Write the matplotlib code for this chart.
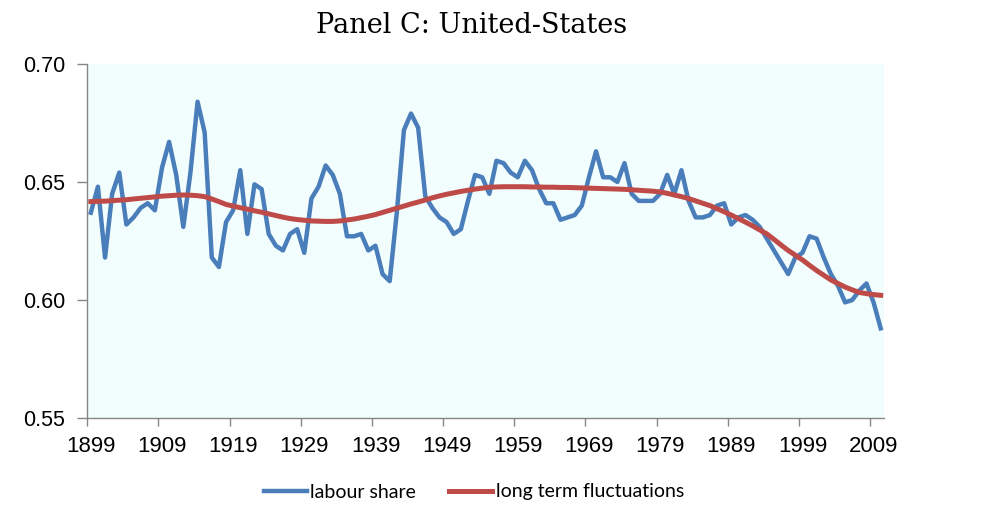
import matplotlib
matplotlib.use("Agg")
import matplotlib.pyplot as plt
from matplotlib.ticker import FixedLocator, NullFormatter

# data, one value per year 1899-2010
years = list(range(1899, 2011))

labour_share = [
    0.637, 0.648, 0.618, 0.645, 0.654, 0.632, 0.635, 0.639, 0.641, 0.638,
    0.656, 0.667, 0.653, 0.631, 0.654, 0.684, 0.671, 0.618, 0.614, 0.633,
    0.638, 0.655, 0.628, 0.649, 0.647, 0.628, 0.623, 0.621, 0.628, 0.630,
    0.620, 0.643, 0.648, 0.657, 0.653, 0.645, 0.627, 0.627, 0.628, 0.621,
    0.623, 0.611, 0.608, 0.637, 0.672, 0.679, 0.673, 0.644, 0.639, 0.635,
    0.633, 0.628, 0.630, 0.642, 0.653, 0.652, 0.645, 0.659, 0.658, 0.654,
    0.652, 0.659, 0.655, 0.647, 0.641, 0.641, 0.634, 0.635, 0.636, 0.640,
    0.652, 0.663, 0.652, 0.652, 0.650, 0.658, 0.645, 0.642, 0.642, 0.642,
    0.645, 0.653, 0.645, 0.655, 0.642, 0.635, 0.635, 0.636, 0.640, 0.641,
    0.632, 0.635, 0.636, 0.634, 0.631, 0.626, 0.621, 0.616, 0.611, 0.618,
    0.620, 0.627, 0.626, 0.618, 0.611, 0.606, 0.599, 0.600, 0.604, 0.607,
    0.599, 0.588,
]

long_term = [
    0.6417, 0.6418, 0.6419, 0.6421, 0.6423, 0.6425, 0.6428, 0.6431, 0.6434, 0.6437,
    0.6440, 0.6442, 0.6444, 0.6445, 0.6444, 0.6442, 0.6438, 0.6428, 0.6417, 0.6405,
    0.6398, 0.6391, 0.6385, 0.6378, 0.6372, 0.6365, 0.6358, 0.6351, 0.6345, 0.6341,
    0.6338, 0.6335, 0.6334, 0.6333, 0.6333, 0.6335, 0.6339, 0.6343, 0.6349, 0.6355,
    0.6362, 0.6371, 0.6380, 0.6389, 0.6398, 0.6407, 0.6415, 0.6424, 0.6433, 0.6441,
    0.6448, 0.6454, 0.6460, 0.6465, 0.6470, 0.6474, 0.6478, 0.6479, 0.6480, 0.6480,
    0.6480, 0.6480, 0.6479, 0.6479, 0.6478, 0.6478, 0.6477, 0.6477, 0.6476, 0.6475,
    0.6474, 0.6473, 0.6472, 0.6471, 0.6470, 0.6469, 0.6467, 0.6465, 0.6463, 0.6461,
    0.6458, 0.6452, 0.6445, 0.6438, 0.6430, 0.6420, 0.6410, 0.6400, 0.6387, 0.6374,
    0.6360, 0.6345, 0.6330, 0.6314, 0.6297, 0.6280, 0.6257, 0.6233, 0.6210, 0.6190,
    0.6170, 0.6147, 0.6125, 0.6105, 0.6085, 0.6070, 0.6055, 0.6043, 0.6032, 0.6027,
    0.6023, 0.6020,
]

label_years = list(range(1899, 2010, 10))
y_ticks = [0.55, 0.60, 0.65, 0.70]

BLUE = "#4a7ebb"
RED = "#be4b48"
GREY = "#868686"
tick_font = ["Liberation Sans", "DejaVu Sans"]

fig = plt.figure(figsize=(9.86, 5.22), dpi=100)
ax = fig.add_axes([0.0885, 0.1992, 0.8083, 0.6782])
ax.set_facecolor("#f2fdfd")

ax.plot(years, labour_share, color=BLUE, lw=3.2, label="labour share",
        solid_joinstyle="round")
ax.plot(years, long_term, color=RED, lw=3.6, label="long term fluctuations")

ax.set_xlim(years[0] - 0.5, years[-1] + 0.5)
ax.set_ylim(0.55, 0.70)

# ticks sit between categories, labels on the category
ax.xaxis.set_major_locator(FixedLocator([y - 0.5 for y in label_years]))
ax.xaxis.set_major_formatter(NullFormatter())
ax.set_xticks(label_years, [str(y) for y in label_years], minor=True)
ax.tick_params(axis="x", which="major", direction="out", length=6, width=1, color=GREY)
ax.tick_params(axis="x", which="minor", length=0, pad=13)
ax.set_yticks(y_ticks, ["%.2f" % v for v in y_ticks])
ax.tick_params(axis="y", direction="out", length=7, width=1, color=GREY, pad=9)
for lab in ax.get_xticklabels(minor=True):
    lab.set_fontfamily(tick_font)
    lab.set_fontsize(16)
for lab in ax.get_yticklabels():
    lab.set_fontfamily(tick_font)
    lab.set_fontsize(15.5)

for side in ["top", "right"]:
    ax.spines[side].set_visible(False)
for side in ["left", "bottom"]:
    ax.spines[side].set_color(GREY)
    ax.spines[side].set_linewidth(1)

fig.text(0.4784, 1 - 33 / 522, "Panel C: United-States", ha="center", va="baseline",
         fontsize=19.5, family=["DejaVu Serif"])

fig.legend(loc="center", bbox_to_anchor=(474 / 986, 1 - 492 / 522), ncol=2,
           frameon=False, prop={"family": ["Lato", "DejaVu Sans"], "size": 14},
           handlelength=2.2, handletextpad=0.2, columnspacing=1.7)

plt.savefig("out.png", dpi=100)
